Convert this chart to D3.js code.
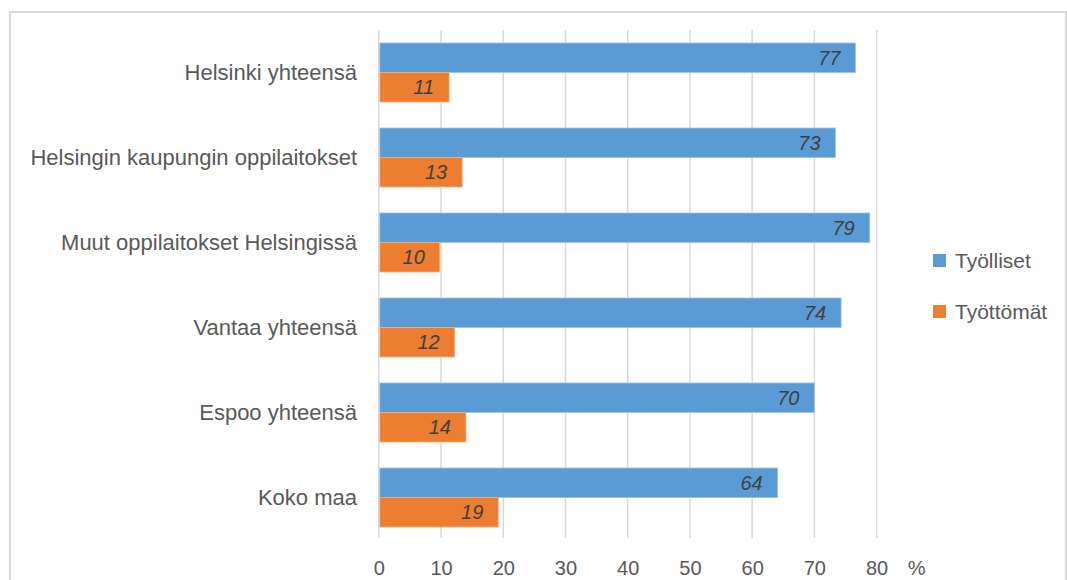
<!DOCTYPE html>
<html><head><meta charset="utf-8">
<script src="https://cdn.jsdelivr.net/npm/d3@7"></script>
<style>
html,body{margin:0;padding:0;background:#fff;}
svg{display:block;font-family:"Liberation Sans",Arial,sans-serif;}
</style></head>
<body>
<svg id="chart" width="1067" height="580"></svg>
<script>
const categories = ["Helsinki yhteensä","Helsingin kaupungin oppilaitokset","Muut oppilaitokset Helsingissä","Vantaa yhteensä","Espoo yhteensä","Koko maa"];
const seriesNames = ["Työlliset","Työttömät"];
const tyolliset = [76.6, 73.4, 78.9, 74.3, 70.0, 64.1];
const tyottomat = [11.3, 13.4, 9.8, 12.2, 14.0, 19.2];
const tickValues = [0,10,20,30,40,50,60,70,80];
const colors = ["#5B9BD5","#ED7D31"];
const strokes = ["#9DC3E6","#F4B183"];

const svg = d3.select("#chart");
// outer border
svg.append("rect").attr("x",10).attr("y",12).attr("width",1056).attr("height",600)
  .attr("fill","none").attr("stroke","#d9d9d9").attr("stroke-width",2);

const x = d3.scaleLinear().domain([0,80]).range([378.8,876.6]);
const y = d3.scaleBand().domain(categories).range([30,540]).paddingInner(0.306).paddingOuter(0.153);
const sub = d3.scaleBand().domain(seriesNames).range([0,y.bandwidth()]);

// gridlines
svg.append("g").selectAll("line").data(tickValues).join("line")
  .attr("x1",d=>x(d)).attr("x2",d=>x(d)).attr("y1",30).attr("y2",538)
  .attr("stroke","#d9d9d9").attr("stroke-width",1.5);

// x axis labels
const xAxis = d3.axisBottom(x).tickValues(tickValues).tickSize(0).tickPadding(0);
const gx = svg.append("g").attr("transform","translate(0,575)").call(xAxis);
gx.select(".domain").remove();
gx.selectAll("text").attr("font-size",20).attr("fill","#595959").attr("dy","0").attr("y",0)
  .attr("font-family","'Liberation Sans',Arial,sans-serif");
svg.append("text").attr("x",x(80)+40).attr("y",575).attr("text-anchor","middle")
  .attr("font-size",20).attr("fill","#595959").text("%");

// y axis labels
const yAxis = d3.axisLeft(y).tickSize(0).tickPadding(0);
const gy = svg.append("g").attr("transform","translate(357,0)").call(yAxis);
gy.select(".domain").remove();
gy.selectAll("text").attr("font-size",22).attr("fill","#595959").attr("dy","0.35em")
  .attr("font-family","'Liberation Sans',Arial,sans-serif");

const data = [tyolliset, tyottomat];
data.forEach((vals,si)=>{
  const g = svg.append("g");
  g.selectAll("rect").data(vals).join("rect")
    .attr("x",x(0)+1).attr("y",(d,i)=>y(categories[i])+sub(seriesNames[si]))
    .attr("width",d=>x(d)-x(0)-1).attr("height",sub.bandwidth())
    .attr("fill",colors[si]).attr("stroke",strokes[si]).attr("stroke-width",0.8);
  g.selectAll("text").data(vals).join("text")
    .attr("x",d=>x(d)-15).attr("y",(d,i)=>y(categories[i])+sub(seriesNames[si])+sub.bandwidth()/2)
    .attr("dy","0.36em").attr("text-anchor","end").attr("font-style","italic")
    .attr("font-size",20).attr("fill","#404040").text(d=>d3.format(".0f")(d));
});

// legend
const lg = svg.append("g");
seriesNames.forEach((n,i)=>{
  const yy = 254 + i*51;
  lg.append("rect").attr("x",933).attr("y",yy).attr("width",13).attr("height",13).attr("fill",colors[i]);
  lg.append("text").attr("x",955).attr("y",yy+6.5).attr("dy","0.36em")
    .attr("font-size",21).attr("fill","#595959").text(n);
});
</script>
</body></html>
